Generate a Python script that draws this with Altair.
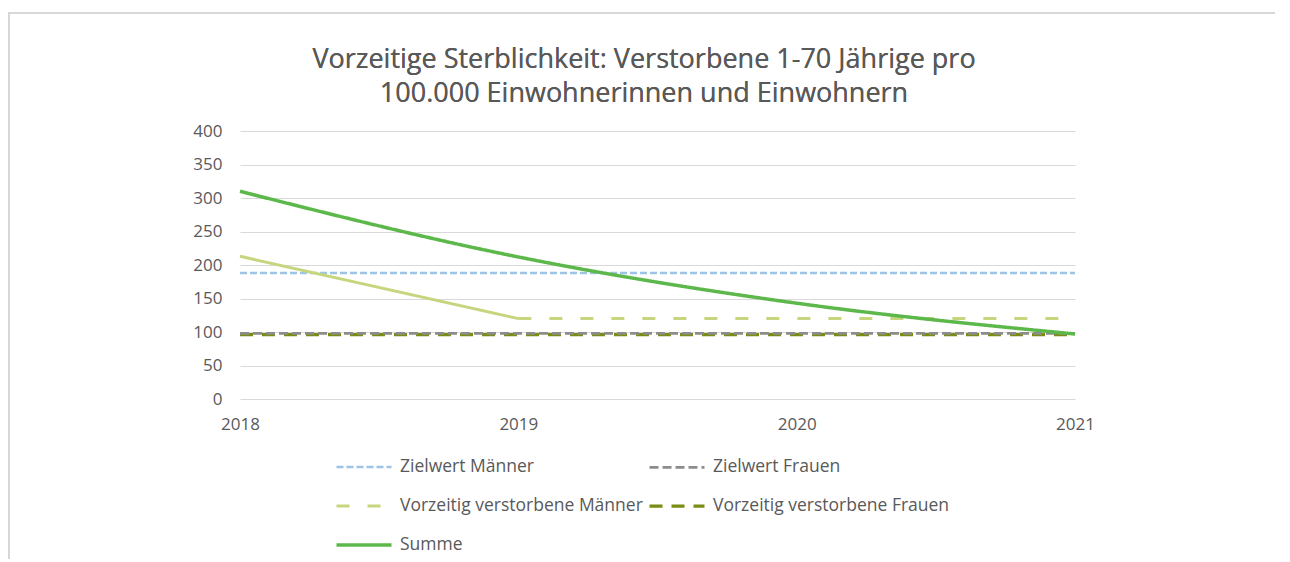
import altair as alt
import pandas as pd

years = [2018, 2019, 2020, 2021]
zielwert_maenner = [188, 188, 188, 188]
zielwert_frauen = [98, 98, 98, 98]
verstorbene_maenner = [213, 120, 120, 120]
verstorbene_frauen = [96, 96, 96, 96]
summe = [310, 212, 143, 97]

series_names = [
    "Zielwert Männer",
    "Zielwert Frauen",
    "Vorzeitig verstorbene Männer",
    "Vorzeitig verstorbene Frauen",
    "Summe",
]
series_colors = ["#9dc3e6", "#8c8c8c", "#c5d67e", "#7b8c14", "#5cb84a"]
series_dashes = [[7, 3], [9, 4], [13, 18], [13, 9], [1, 0]]
series_widths = [2.5, 3.5, 3, 3.5, 3.2]

title_lines = [
    "Vorzeitige Sterblichkeit: Verstorbene 1-70 Jährige pro",
    "100.000 Einwohnerinnen und Einwohnern",
]

rows = []
for name, vals in zip(series_names, [zielwert_maenner, zielwert_frauen, verstorbene_maenner, verstorbene_frauen, summe]):
    for yr, v in zip(years, vals):
        if name == "Vorzeitig verstorbene Männer" and yr < 2019:
            continue
        rows.append({"Jahr": yr, "Wert": v, "Serie": name})
df = pd.DataFrame(rows)

# solid first segment of the male series (2018-2019)
seg = pd.DataFrame({"Jahr": years[:2], "Wert": verstorbene_maenner[:2]})

FONT = "Open Sans"
TXT = "#595959"

legend = alt.Legend(
    title=None,
    orient="none",
    legendX=113,
    legendY=325,
    columns=2,
    direction="horizontal",
    symbolType="M-3,0H3",
    symbolSize=336,
    labelFontSize=17.5,
    labelFont=FONT,
    labelColor=TXT,
    labelLimit=400,
    labelOffset=25,
    rowPadding=19,
    columnPadding=0,
)

x = alt.X("Jahr:Q", scale=alt.Scale(domain=[2018, 2021], nice=False, zero=False),
          axis=alt.Axis(values=years, format="d", title=None, grid=False, domain=False,
                        ticks=False, labelPadding=17, labelFlush=False,
                        labelFontSize=17, labelFont=FONT, labelColor=TXT))
y = alt.Y("Wert:Q", scale=alt.Scale(domain=[0, 400], nice=False),
          axis=alt.Axis(values=list(range(0, 401, 50)), title=None, domain=False, ticks=False,
                        labelOverlap=False, labelPadding=18, labelFontSize=17, labelFont=FONT,
                        labelColor=TXT, gridColor="#d9d9d9", gridWidth=1))

enc = dict(
    x=x,
    y=y,
    color=alt.Color("Serie:N", scale=alt.Scale(domain=series_names, range=series_colors), legend=legend),
    strokeDash=alt.StrokeDash("Serie:N", scale=alt.Scale(domain=series_names, range=series_dashes), legend=legend),
    strokeWidth=alt.StrokeWidth("Serie:N", scale=alt.Scale(domain=series_names, range=series_widths), legend=legend),
)

base = alt.Chart(df)
layers = []
segment = alt.Chart(seg).mark_line(color="#c5d67e", strokeWidth=3, interpolate="monotone").encode(
    x=x, y=y)
for name in ["Zielwert Männer", "Vorzeitig verstorbene Männer", "Vorzeitig verstorbene Frauen", "Zielwert Frauen"]:
    layers.append(base.transform_filter(alt.datum.Serie == name).mark_line().encode(**enc))
layers.insert(1, segment)
layers.append(base.transform_filter(alt.datum.Serie == "Summe").mark_line(interpolate="monotone").encode(**enc))

frame_top = alt.Chart(seg).mark_rule(color="#d4d4d4", strokeWidth=1.5).encode(
    x=alt.value(-232), x2=alt.value(1100), y=alt.value(-118))
frame_left = alt.Chart(seg).mark_rule(color="#d4d4d4", strokeWidth=1.5).encode(
    x=alt.value(-231), y=alt.value(-118), y2=alt.value(440))

title_marks = []
for i, line in enumerate(title_lines):
    title_marks.append(
        alt.Chart(seg).mark_text(font=FONT, fontSize=27, color=TXT, align="center", baseline="middle").encode(
            x=alt.value(404), y=alt.value(-71 + 34 * i), text=alt.value(line))
    )

chart = alt.layer(*layers, frame_top, frame_left, *title_marks).properties(
    width=835,
    height=268,
    autosize=alt.AutoSizeParams(type="none"),
    padding={"left": 232, "top": 123, "right": 200, "bottom": 160},
).configure_view(stroke=None)

chart.save("out.html", embed_options={"renderer": "svg", "actions": False})
